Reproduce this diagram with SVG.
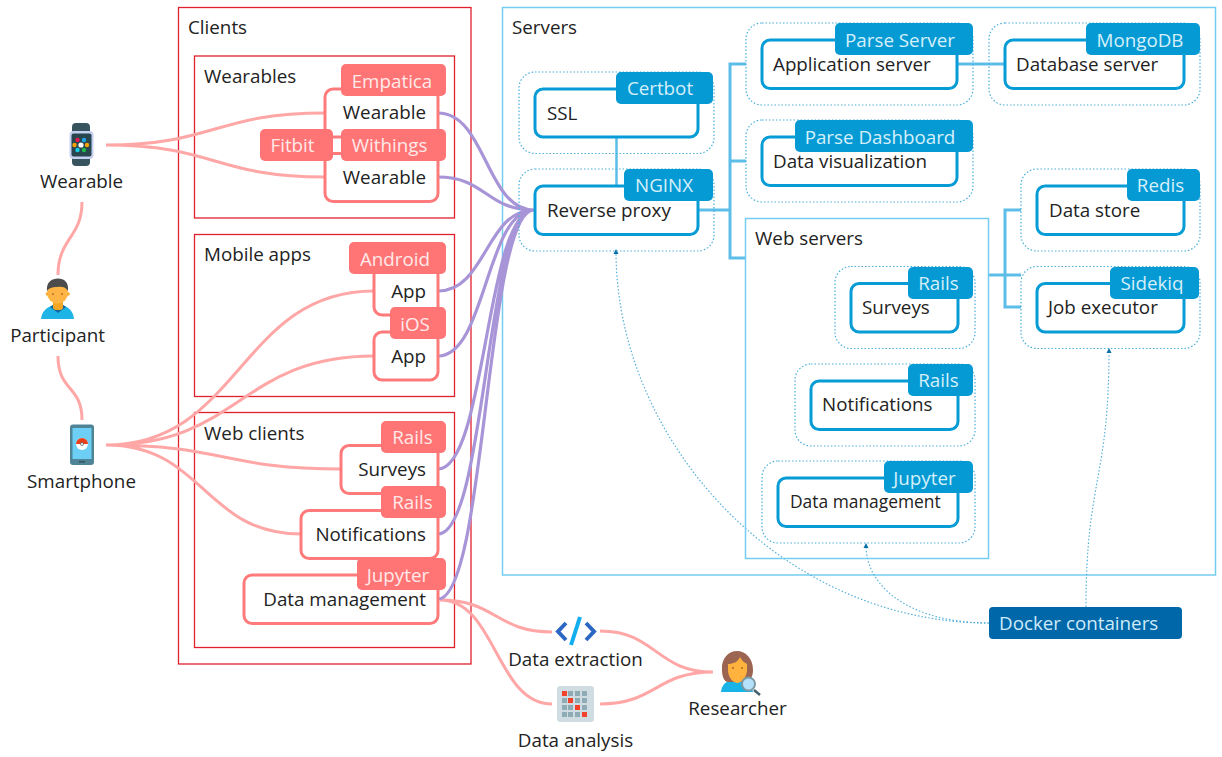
<svg xmlns="http://www.w3.org/2000/svg" width="1222" height="757" viewBox="0 0 1222 757">
<defs>
<marker id="ah" markerWidth="6" markerHeight="6" refX="3" refY="3" orient="auto" markerUnits="userSpaceOnUse"><path d="M0,0.5L5,3L0,5.5Z" fill="#0a6fa8"/></marker>
</defs>
<style>
text{font-family:"Open Sans","Noto Sans","DejaVu Sans",sans-serif;font-size:18.800px;fill:#222}
.tag{fill:#ffe9e9;text-anchor:middle}
.btag{fill:#d5f0fb;text-anchor:middle}
.lbl{text-anchor:middle}
.r{text-anchor:end}
.cont{fill:none;stroke:#e0202c;stroke-width:1.3}
.scont{fill:none;stroke:#74cdf0;stroke-width:1.5}
.pb{fill:#fff;stroke:#ff7b7b;stroke-width:3}
.pt{fill:#ff7575}
.bb{fill:#fff;stroke:#079cd6;stroke-width:3}
.bt{fill:#069ad4}
.dot{fill:none;stroke:#4aaedb;stroke-width:1.2;stroke-dasharray:1.5 2}
.pl{fill:none;stroke:#ffa6a6;stroke-width:3}
.vl{fill:none;stroke:#a895d8;stroke-width:3.200}
.cl{fill:none;stroke:#5cbde8;stroke-width:3}
.dl{fill:none;stroke:#55b0da;stroke-width:1.2;stroke-dasharray:1.5 2;marker-end:url(#ah)}
</style>

<g id="clients"><rect class="cont" x="178.500" y="7.500" width="292.500" height="656.500"/><text x="188" y="34">Clients</text></g>
<g id="wearables"><rect class="cont" x="194.500" y="56" width="260" height="162"/><text x="204" y="83">Wearables</text></g>
<g id="mobile-apps"><rect class="cont" x="194.500" y="234.500" width="260" height="162"/><text x="204" y="261">Mobile apps</text></g>
<g id="web-clients"><rect class="cont" x="194.500" y="412.500" width="260" height="235"/><text x="204" y="439.500">Web clients</text></g>
<g id="servers"><rect class="scont" x="502.500" y="7.500" width="713" height="567.500"/><text x="512" y="34">Servers</text></g>

<g id="connectors">
<path class="pl" d="M106,145C215,145 215,113 325,113M106,145C215,145 215,177 325,177"/>
<path class="pl" d="M82,202C82,238 58,238 58,275M58,356C58,392 82,385 82,420"/>
<path class="pl" d="M106,445C240,445 240,291 374,291M106,445C240,445 240,356 374,356M106,445C224,445 224,469 341,469M106,445C204,445 204,534 301,534"/>
<path class="pl" d="M440,600C496,600 496,632 552,632M440,600C496,600 496,704 552,704M600,631C656,631 656,672 713,672M600,704C656,704 656,672 713,672"/>
<path class="vl" d="M438,113C486,113 486,210 534,210M438,177C486,177 486,210 534,210M438,291C486,291 486,210 534,210M438,356C486,356 486,210 534,210M438,469C486,469 486,210 534,210M438,534C486,534 486,210 534,210M438,599C486,599 486,210 534,210"/>
<path class="cl" d="M698,210H730M746,64H730V258H746M730,161H746M957,64H1005M989,275H1021M1021,210H1005V307H1021"/>
<path class="cl" style="stroke-width:2.500" d="M616.500,137V186"/>
<path class="dl" d="M989,623C780,623 616,440 616,251"/>
<path class="dl" d="M989,623C915,623 866,590 866,545"/>
<path class="dl" d="M1086,607C1086,480 1109,480 1109,350"/>
</g>

<g id="node-wearable-device">
<rect x="72" y="123" width="18" height="43" rx="4" fill="#37545f"/>
<rect x="69.500" y="131" width="24" height="28" rx="4" fill="#c5cff0"/>
<rect x="71.500" y="133.500" width="20" height="23" rx="2" fill="#29464f"/>
<circle cx="77.500" cy="140" r="2.200" fill="#e8184f"/><circle cx="84" cy="140" r="2.200" fill="#1ea7e8"/>
<circle cx="74.500" cy="145" r="2.200" fill="#f5a300"/><circle cx="81" cy="145" r="2.600" fill="#fff"/><circle cx="87" cy="145" r="2.200" fill="#f5a300"/>
<circle cx="77.500" cy="150" r="2.200" fill="#12cfe8"/><circle cx="84" cy="150" r="2.200" fill="#1fb84a"/>
<text class="lbl" x="81.500" y="188">Wearable</text>
</g>
<g id="node-participant">
<path d="M41,319C42,309 50,305 58,305C66,305 73,309 74,319Z" fill="#1eb5e6"/>
<path d="M50,307L58,313L66,307L62,304H54Z" fill="#1668a0"/>
<rect x="53" y="298" width="10" height="12" rx="3" fill="#f5a623"/>
<circle cx="47.500" cy="294" r="1.800" fill="#f5a623"/><circle cx="68" cy="294" r="1.800" fill="#f5a623"/>
<circle cx="57.500" cy="293" r="10.500" fill="#ffb545"/>
<path d="M47,291C46,282 52,278.500 58,278.500C64,278.500 69,282 68,291C66,287 62,286 57,287C52,287 49,288 47,291Z" fill="#4c4c4c"/>
<circle cx="53" cy="294" r=".9" fill="#a8692a"/><circle cx="62" cy="294" r=".9" fill="#a8692a"/>
<text class="lbl" x="57.500" y="342">Participant</text>
</g>
<g id="node-smartphone">
<rect x="70" y="424.500" width="24" height="40.500" rx="3" fill="#4f8496"/>
<rect x="72.500" y="428" width="19" height="31" fill="#6dcff6"/>
<circle cx="82" cy="444" r="6" fill="#fff"/>
<path d="M76,444A6,6 0 0 1 88,444Z" fill="#e8401a"/>
<circle cx="82" cy="444" r="1.500" fill="#fff" stroke="#555" stroke-width=".7"/>
<rect x="79" y="461" width="6" height="1.500" fill="#2f5560"/>
<text class="lbl" x="81.500" y="488">Smartphone</text>
</g>

<g id="node-wearable-1"><rect class="pb" x="325" y="89" width="113" height="48" rx="8"/><rect class="pt" x="341" y="64" width="105" height="32" rx="5"/><text class="tag" x="392" y="87.500">Empatica</text><text class="r" x="426" y="119">Wearable</text></g>
<g id="node-wearable-2"><rect class="pb" x="325" y="153.500" width="113" height="48" rx="8"/><text class="r" x="426" y="184">Wearable</text>
<rect class="pt" x="260" y="129" width="73" height="32" rx="5"/><text class="tag" x="292.500" y="152">Fitbit</text><rect class="pt" x="341" y="129" width="105" height="32" rx="5"/><text class="tag" x="389.500" y="152">Withings</text></g>
<g id="node-app-1"><rect class="pb" x="374" y="267" width="64" height="48" rx="8"/><rect class="pt" x="349" y="242" width="97" height="32" rx="5"/><text class="tag" x="395" y="265.500">Android</text><text class="r" x="426" y="298">App</text></g>
<g id="node-app-2"><rect class="pb" x="374" y="332" width="64" height="48" rx="8"/><rect class="pt" x="390" y="307" width="56" height="32" rx="5"/><text class="tag" x="415" y="330.500">iOS</text><text class="r" x="426" y="363">App</text></g>
<g id="node-surveys"><rect class="pb" x="341" y="445.500" width="97" height="48" rx="8"/><rect class="pt" x="381" y="421" width="65" height="32" rx="5"/><text class="tag" x="412.500" y="444">Rails</text><text class="r" x="426" y="476">Surveys</text></g>
<g id="node-notifications"><rect class="pb" x="301" y="510.500" width="137" height="48" rx="8"/><rect class="pt" x="381" y="486" width="65" height="32" rx="5"/><text class="tag" x="412.500" y="509">Rails</text><text class="r" x="426" y="541">Notifications</text></g>
<g id="node-data-management"><rect class="pb" x="244" y="575" width="194" height="48.500" rx="8"/><rect class="pt" x="357" y="558" width="89" height="32" rx="5"/><text class="tag" x="398" y="581.500">Jupyter</text><text class="r" x="426" y="606">Data management</text></g>

<g id="node-ssl"><rect class="dot" x="519" y="72" width="195" height="81.500" rx="16"/><rect class="bb" x="535" y="89" width="163" height="48" rx="8"/><rect class="bt" x="616" y="72" width="97" height="32" rx="5"/><text class="btag" x="660" y="95">Certbot</text><text x="547" y="120">SSL</text></g>
<g id="node-reverse-proxy"><rect class="dot" x="519" y="169" width="195" height="82" rx="16"/><rect class="bb" x="535" y="186" width="163" height="48.500" rx="8"/><rect class="bt" x="624" y="169" width="89" height="32" rx="5"/><text class="btag" x="664" y="192">NGINX</text><text x="547" y="217">Reverse proxy</text></g>
<g id="node-application-server"><rect class="dot" x="746" y="23" width="227" height="82" rx="16"/><rect class="bb" x="762" y="40" width="195" height="48.500" rx="8"/><rect class="bt" x="835" y="23" width="138" height="32" rx="5"/><text class="btag" x="900" y="46.500">Parse Server</text><text x="773" y="71">Application server</text></g>
<g id="node-database-server"><rect class="dot" x="989" y="23" width="211" height="82" rx="16"/><rect class="bb" x="1005" y="40" width="179" height="48.500" rx="8"/><rect class="bt" x="1086" y="23" width="114" height="32" rx="5"/><text class="btag" x="1140" y="46.500">MongoDB</text><text x="1016" y="71">Database server</text></g>
<g id="node-data-visualization"><rect class="dot" x="746" y="120" width="227" height="82" rx="16"/><rect class="bb" x="762" y="137" width="195" height="48.500" rx="8"/><rect class="bt" x="795" y="120" width="178" height="32" rx="5"/><text class="btag" x="880" y="143.500">Parse Dashboard</text><text x="773" y="168">Data visualization</text></g>
<g id="node-web-servers"><rect class="scont" x="745.500" y="218.500" width="243" height="340"/><text x="755" y="245">Web servers</text></g>
<g id="node-ws-surveys"><rect class="dot" x="835" y="266.500" width="140" height="82" rx="16"/><rect class="bb" x="851" y="283.500" width="107" height="48.500" rx="8"/><rect class="bt" x="908" y="267" width="65" height="32" rx="5"/><text class="btag" x="938.500" y="290">Rails</text><text x="862" y="314">Surveys</text></g>
<g id="node-ws-notifications"><rect class="dot" x="795" y="364" width="180" height="82" rx="16"/><rect class="bb" x="811" y="381" width="147" height="48.500" rx="8"/><rect class="bt" x="908" y="364" width="65" height="32" rx="5"/><text class="btag" x="938.500" y="387">Rails</text><text x="822" y="411">Notifications</text></g>
<g id="node-ws-data-management"><rect class="dot" x="762" y="461" width="213" height="82" rx="16"/><rect class="bb" x="778" y="478" width="180" height="48.500" rx="8"/><rect class="bt" x="884" y="461" width="89" height="32" rx="5"/><text class="btag" x="924.500" y="485">Jupyter</text><text x="790" y="508" style="font-size:17.400px">Data management</text></g>
<g id="node-data-store"><rect class="dot" x="1021" y="169" width="179" height="82" rx="16"/><rect class="bb" x="1037" y="186" width="147" height="48.500" rx="8"/><rect class="bt" x="1127" y="169" width="73" height="32" rx="5"/><text class="btag" x="1160.500" y="192">Redis</text><text x="1049" y="217">Data store</text></g>
<g id="node-job-executor"><rect class="dot" x="1021" y="266.500" width="179" height="82" rx="16"/><rect class="bb" x="1037" y="283.500" width="147" height="48.500" rx="8"/><rect class="bt" x="1110" y="267" width="89" height="32" rx="5"/><text class="btag" x="1152" y="290">Sidekiq</text><text x="1048" y="314">Job executor</text></g>
<g id="node-docker"><rect x="989" y="607" width="193" height="32" rx="4" fill="#0068a8"/><text x="999" y="630" style="fill:#cfeafa">Docker containers</text></g>

<g id="node-data-extraction">
<path d="M566,623L558,631.500L566,640" fill="none" stroke="#2d67c4" stroke-width="4"/>
<path d="M586,623L594,631.500L586,640" fill="none" stroke="#2d67c4" stroke-width="4"/>
<path d="M580,617L571,645" stroke="#12aef0" stroke-width="4" fill="none"/>
<text class="lbl" x="575.500" y="666">Data extraction</text>
</g>
<g id="node-data-analysis">
<rect x="557" y="686" width="37" height="36" rx="3" fill="#cfdde3"/>
<g fill="#8fabb6">
<rect x="568" y="691" width="5" height="5"/><rect x="575" y="691" width="5" height="5"/><rect x="582" y="691" width="5" height="5"/>
<rect x="562" y="698" width="5" height="5"/><rect x="575" y="698" width="5" height="5"/><rect x="582" y="698" width="5" height="5"/>
<rect x="562" y="705" width="5" height="5"/><rect x="568" y="705" width="5" height="5"/><rect x="582" y="705" width="5" height="5"/>
<rect x="562" y="712" width="5" height="5"/><rect x="568" y="712" width="5" height="5"/><rect x="575" y="712" width="5" height="5"/>
</g>
<g fill="#f4412a">
<rect x="562" y="691" width="5" height="5"/><rect x="568" y="698" width="5" height="5"/><rect x="575" y="705" width="5" height="5"/><rect x="582" y="712" width="5" height="5"/>
</g>
<text class="lbl" x="575.500" y="747">Data analysis</text>
</g>
<g id="node-researcher">
<path d="M721,692C722,682 729,680 737,680C745,680 752,684 753,692Z" fill="#18b4e8"/>
<path d="M722,670C721,658 729,651 737,651C745,651 753,658 753,670C753,677 750,682 745,682H728C724,682 722,676 722,670Z" fill="#9c6552"/>
<path d="M728,664C733,664 738,662 740,657C742,661 745,663 747,664V670C747,677 741,683 737.500,683C733,683 728,677 728,670Z" fill="#ffb23e"/>
<circle cx="733" cy="668" r="1" fill="#a8692a"/><circle cx="742" cy="668" r="1" fill="#a8692a"/>
<path d="M754,690L760,695" stroke="#44606c" stroke-width="2.500"/>
<circle cx="748.500" cy="684" r="6.500" fill="#b5e2fa" stroke="#7d99a6" stroke-width="2"/>
<text class="lbl" x="737.500" y="715">Researcher</text>
</g>
</svg>
